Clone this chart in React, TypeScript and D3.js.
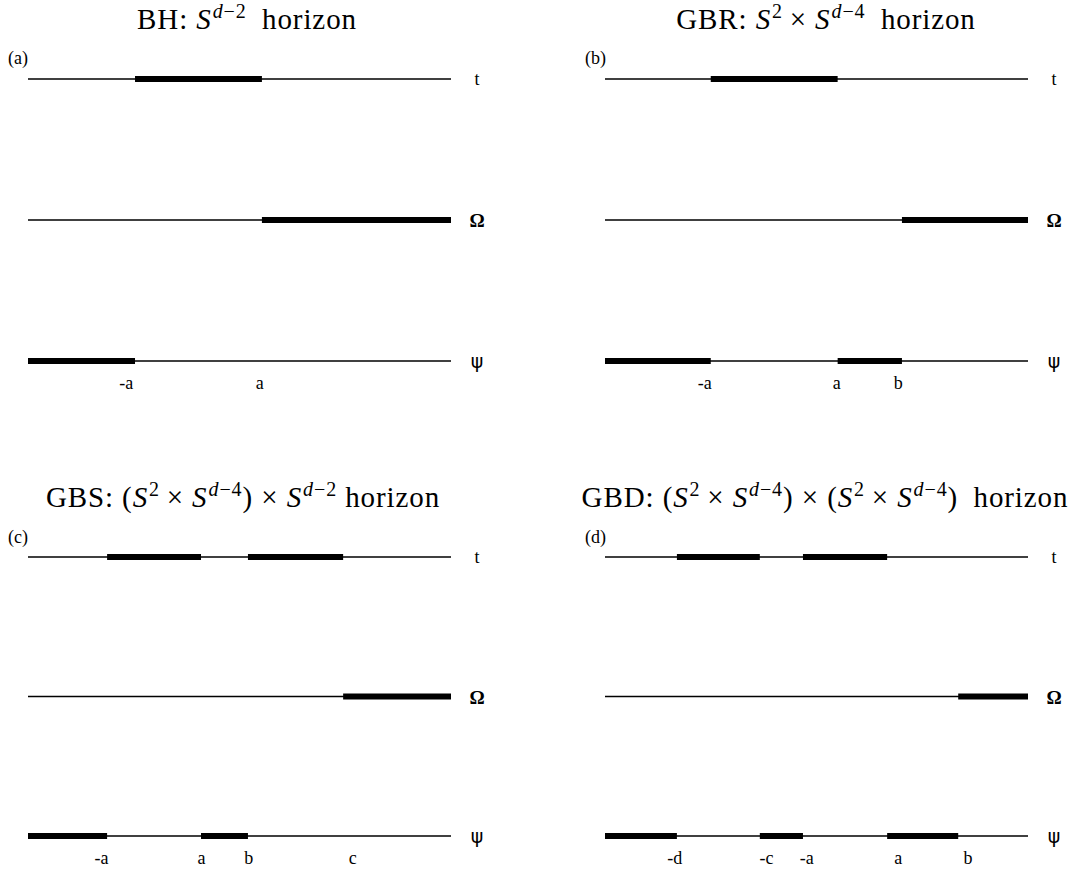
import React from 'react';
import * as d3 from 'd3';

// ---------- data (positions along each axis, domain 0..100) ----------
const panelIds = ['(a)', '(b)', '(c)', '(d)'];
const rowNames = ['t', 'Ω', 'ψ'];

// title tokens: [text, kind]  kind: r roman, i italic, sr sup roman, si sup italic
const titleA: [string, string][] = [['BH: ', 'r'], ['S', 'i'], ['d', 'si'], ['−2', 'sr'], ['\u2002horizon', 'r']];
const titleB: [string, string][] = [['GBR: ', 'r'], ['S', 'i'], ['2', 'sr'], ['\u2009× ', 'r'], ['S', 'i'], ['d', 'si'], ['−4', 'sr'], ['\u2002horizon', 'r']];
const titleC: [string, string][] = [['GBS: (', 'r'], ['S', 'i'], ['2', 'sr'], ['\u2009× ', 'r'], ['S', 'i'], ['d', 'si'], ['−4', 'sr'], [') × ', 'r'], ['S', 'i'], ['d', 'si'], ['−2', 'sr'], [' horizon', 'r']];
const titleD: [string, string][] = [['GBD: (', 'r'], ['S', 'i'], ['2', 'sr'], ['\u2009× ', 'r'], ['S', 'i'], ['d', 'si'], ['−4', 'sr'], [') × (', 'r'], ['S', 'i'], ['2', 'sr'], ['\u2009× ', 'r'], ['S', 'i'], ['d', 'si'], ['−4', 'sr'], [')\u2002horizon', 'r']];

// thick segments per row (t, Ω, ψ)
const segA: number[][][] = [[[25.3, 55.3]], [[55.3, 100]], [[0, 25.3]]];
const segB: number[][][] = [[[25.0, 55.0]], [[70.2, 100]], [[0, 25.0], [55.0, 70.2]]];
const segC: number[][][] = [[[18.7, 40.9], [52.0, 74.5]], [[74.5, 100]], [[0, 18.7], [40.9, 52.0]]];
const segD: number[][][] = [[[17.0, 36.6], [46.8, 66.7]], [[83.5, 100]], [[0, 17.0], [36.6, 46.8], [66.7, 83.5]]];

// tick labels under the ψ axis
const tickNamesA = ['-a', 'a'];
const tickPosA = [23.2, 54.8];
const tickNamesB = ['-a', 'a', 'b'];
const tickPosB = [23.6, 54.8, 69.3];
const tickNamesC = ['-a', 'a', 'b', 'c'];
const tickPosC = [17.4, 41.0, 52.2, 76.8];
const tickNamesD = ['-d', '-c', '-a', 'a', 'b'];
const tickPosD = [16.5, 38.2, 47.7, 69.3, 85.8];

const titles = [titleA, titleB, titleC, titleD];
const segments = [segA, segB, segC, segD];
const tickNames = [tickNamesA, tickNamesB, tickNamesC, tickNamesD];
const tickPos = [tickPosA, tickPosB, tickPosC, tickPosD];

// ---------- layout ----------
const W = 1075;
const H = 869;
const colX = [28, 605];
const lineW = 423;
const rowTop = [79, 557];
const rowBottom = [361, 836];
const titleBase = [29, 507];
const idBase = [64, 543];
const tickBase = [389, 864];
const titleCenter = [247, 826, 243, 825];
const titleSize = 29;
const supSize = 20;

const serif = "'Liberation Serif', 'DejaVu Serif', serif";

function Title({ tokens, x, y }: { tokens: [string, string][]; x: number; y: number }) {
  const out: React.ReactNode[] = [];
  let inSup = false;
  tokens.forEach(([txt, kind], i) => {
    const sup = kind === 'sr' || kind === 'si';
    let dy = 0;
    if (sup && !inSup) dy = -11;
    if (!sup && inSup) dy = 11;
    inSup = sup;
    out.push(
      <tspan
        key={i}
        dy={dy || undefined}
        dx={sup && dy ? 1 : undefined}
        fontStyle={kind === 'i' || kind === 'si' ? 'italic' : 'normal'}
        fontSize={sup ? supSize : titleSize}
      >
        {txt}
      </tspan>
    );
  });
  return (
    <text
      x={x}
      y={y}
      textAnchor="middle"
      fontFamily={serif}
      fontSize={titleSize}
      letterSpacing={0.9}
      fill="#000"
      style={{ whiteSpace: 'pre' }}
    >
      {out}
    </text>
  );
}

function Panel({ idx }: { idx: number }) {
  const col = idx % 2;
  const row = Math.floor(idx / 2);
  const x = d3.scaleLinear().domain([0, 100]).range([colX[col], colX[col] + lineW]);
  const y = d3.scalePoint<string>().domain(rowNames).range([rowTop[row], rowBottom[row]]);
  const segs = segments[idx];
  return (
    <g>
      <Title tokens={titles[idx]} x={titleCenter[idx]} y={titleBase[row]} />
      <text x={colX[col] - 20} y={idBase[row]} fontFamily={serif} fontSize={18} fill="#000">
        {panelIds[idx]}
      </text>
      {rowNames.map((r, ri) => (
        <g key={r}>
          <line x1={x(0)} x2={x(100)} y1={y(r)} y2={y(r)} stroke="#000" strokeWidth={1.3} />
          {segs[ri].map((s, si) => (
            <line key={si} x1={x(s[0])} x2={x(s[1])} y1={y(r)} y2={y(r)} stroke="#000" strokeWidth={6} />
          ))}
          <text
            x={x(100) + 26}
            y={(y(r) as number) + (r === 't' ? 6 : 7)}
            textAnchor="middle"
            fontFamily={r === 'ψ' ? "'DejaVu Sans', sans-serif" : serif}
            fontWeight={r === 'Ω' ? 'bold' : 'normal'}
            fontSize={r === 't' ? 18 : 19}
            fill="#000"
          >
            {r}
          </text>
        </g>
      ))}
      {tickNames[idx].map((n, ti) => (
        <text
          key={ti}
          x={x(tickPos[idx][ti])}
          y={tickBase[row]}
          textAnchor="middle"
          fontFamily={serif}
          fontSize={18}
          fill="#000"
        >
          {n}
        </text>
      ))}
    </g>
  );
}

export default function App() {
  return (
    <svg
      width={W}
      height={H}
      viewBox={`0 0 ${W} ${H}`}
      style={{ position: 'absolute', left: 0, top: 0, background: '#fff' }}
    >
      <rect width={W} height={H} fill="#fff" />
      {[0, 1, 2, 3].map((i) => (
        <Panel key={i} idx={i} />
      ))}
    </svg>
  );
}
